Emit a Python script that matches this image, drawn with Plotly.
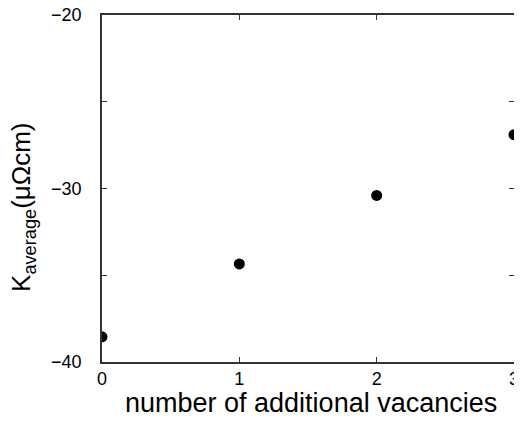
import plotly.graph_objects as go

vacancies = [0, 1, 2, 3]
k_average = [-38.55, -34.35, -30.4, -26.9]

y_tickvals = [-40, -30, -20]
y_ticktext = ["\u221240\u00a0\u00a0\u00a0", "\u221230\u00a0\u00a0\u00a0", "\u221220\u00a0\u00a0\u00a0"]
x_tickvals = [0, 1, 2, 3]
x_ticktext = ["0", "1", "2", "3"]

FONT = "Liberation Sans, Arial, sans-serif"

fig = go.Figure()
fig.add_trace(go.Scatter(
    x=vacancies, y=k_average, mode="markers",
    marker=dict(color="black", size=11),
    showlegend=False,
))

axis_common = dict(
    showgrid=False, zeroline=False, showline=True, linecolor="#333333",
    linewidth=1.5, mirror="allticks", ticks="inside", ticklen=5,
    tickcolor="#333333", tickwidth=1, automargin=False,
    ticklabeloverflow="allow",
    tickfont=dict(family=FONT, size=18, color="black"),
)

fig.update_xaxes(
    range=[0, 3], tickvals=x_tickvals, ticktext=x_ticktext,
    **axis_common,
)
fig.update_yaxes(
    range=[-40, -20], tickvals=y_tickvals, ticktext=y_ticktext,
    minor=dict(dtick=5, tick0=-40, ticks="inside", ticklen=5, tickcolor="#333333", tickwidth=1),
    **axis_common,
)

fig.add_annotation(
    text="K<sub>average</sub>(\u03bc\u03a9cm)",
    xref="paper", yref="paper", x=-0.1917, y=0.444,
    xanchor="center", yanchor="middle", textangle=-90, showarrow=False,
    font=dict(family=FONT, size=26, color="black"),
)
fig.add_annotation(
    text="number of additional vacancies",
    xref="paper", yref="paper", x=0.507, y=-0.167,
    xanchor="center", yanchor="bottom", showarrow=False,
    font=dict(family=FONT, size=27, color="black"),
)

fig.update_layout(
    width=506, height=406,
    margin=dict(l=94, r=0, t=7, b=52),
    paper_bgcolor="white", plot_bgcolor="white",
)

fig.write_html("out.html")
